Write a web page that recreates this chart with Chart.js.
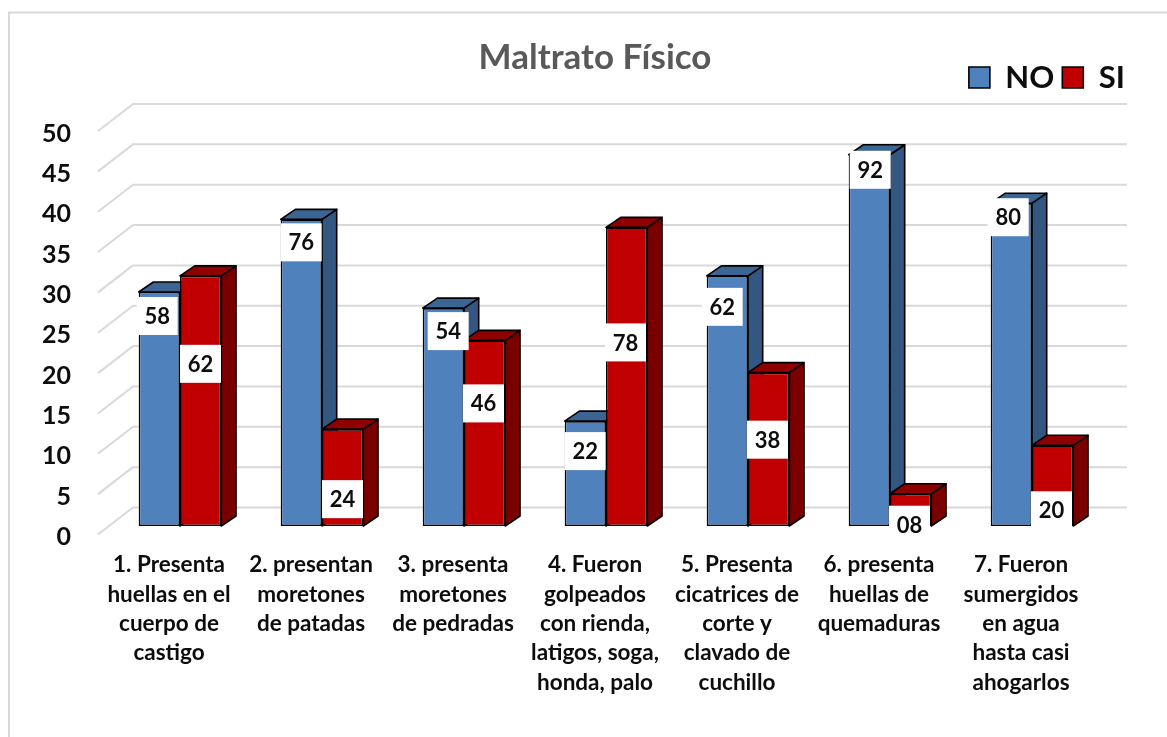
<!DOCTYPE html>
<html><head><meta charset="utf-8">
<style>html,body{margin:0;padding:0;background:#fff;overflow:hidden}canvas{display:block}</style>
<script src="https://cdn.jsdelivr.net/npm/chart.js@4"></script></head>
<body><canvas id="c" width="1167" height="737"></canvas>
<script>
const categories=[
 ["1. Presenta","huellas en el","cuerpo de","castigo"],
 ["2. presentan","moretones","de patadas"],
 ["3. presenta","moretones","de pedradas"],
 ["4. Fueron","golpeados","con rienda,","latigos, soga,","honda, palo"],
 ["5. Presenta","cicatrices de","corte y","clavado de","cuchillo"],
 ["6. presenta","huellas de","quemaduras"],
 ["7. Fueron","sumergidos","en agua","hasta casi","ahogarlos"]];
const noValues=[29,38,27,13,31,46,40];
const siValues=[31,12,23,37,19,4,10];
const noLabels=["58","76","54","22","62","92","80"];
const siLabels=["62","24","46","78","38","08","20"];
const yTicks=[0,5,10,15,20,25,30,35,40,45,50];
// hand-placed label offsets (px) from each bar's top-left corner
const noLabelDx=[-2,0,5,0,-5,1,-3], noLabelDy=[5,4,4,11,12,-4,-5];
const siLabelDx=[0,0,-1,-1,-1,-1,-1], siLabelDy=[69,51,44,96,48,12,46];

const FONT='Lato, "Open Sans", sans-serif', INK='#0D0D0D';
const AREA={left:98,right:1092,top:130.7,bottom:534.5};
const WALL={dx:35,dy:27}, PLANE={dx:11,dy:8.5}, BAR={dx:14.7,dy:10};
const SHADES=[{side:'#335780',top:'#3D6594'},{side:'#7A0000',top:'#8F0000'}];

function drawGrid(ch){const c=ch.ctx,y=ch.scales.y,x=ch.scales.x;c.save();c.strokeStyle='#D9D9D9';c.lineWidth=2;c.lineJoin='round';
  y.ticks.forEach(t=>{const p=y.getPixelForValue(t.value);c.beginPath();c.moveTo(x.left,p);c.lineTo(x.left+WALL.dx,p-WALL.dy);c.lineTo(x.right+WALL.dx,p-WALL.dy);c.stroke();});c.restore();}
function drawSeries(ch,idx){const c=ch.ctx,s=SHADES[idx],meta=ch.getDatasetMeta(idx);
  c.save();c.translate(PLANE.dx,-PLANE.dy);
  meta.controller.draw();
  c.lineWidth=1.6;c.strokeStyle='#000';c.lineJoin='round';
  meta.data.forEach(b=>{const l=b.x-b.width/2,r=b.x+b.width/2,t=b.y,f=b.base;
   c.fillStyle=s.side;c.beginPath();c.moveTo(r,t);c.lineTo(r+BAR.dx,t-BAR.dy);c.lineTo(r+BAR.dx,f-BAR.dy);c.lineTo(r,f);c.closePath();c.fill();c.stroke();
   c.fillStyle=s.top;c.beginPath();c.moveTo(l,t);c.lineTo(l+BAR.dx,t-BAR.dy);c.lineTo(r+BAR.dx,t-BAR.dy);c.lineTo(r,t);c.closePath();c.fill();c.stroke();});
  c.restore();}
function drawLabels(ch){const c=ch.ctx;c.save();c.textAlign='center';c.textBaseline='middle';c.font='bold 22px '+FONT;
  [[noLabels,noLabelDx,noLabelDy],[siLabels,siLabelDx,siLabelDy]].forEach((g,d)=>{
   ch.getDatasetMeta(d).data.forEach((b,i)=>{
    const bx=b.x-b.width/2+PLANE.dx+g[1][i],by=b.y-PLANE.dy+g[2][i];
    c.fillStyle='#fff';c.fillRect(bx,by,41,38);c.fillStyle=INK;c.fillText(g[0][i],bx+20.5,by+20);});});
  c.restore();}

const scene={id:'scene',
 beforeDraw(ch){const c=ch.ctx;c.save();c.fillStyle='#fff';c.fillRect(0,0,ch.width,ch.height);
  c.strokeStyle='#D9D9D9';c.lineWidth=2;c.strokeRect(9,12.5,ch.width+40,ch.height+40);c.restore();},
 afterLayout(ch){const l=ch.legend;l.left+=41;l.right+=41;l.top=54;l.bottom=100;},
 // series are painted left to right so each bar overlaps its left neighbour's depth face
 beforeDatasetsDraw(ch){drawGrid(ch);drawSeries(ch,0);drawSeries(ch,1);drawLabels(ch);return false;}
};

new Chart(document.getElementById('c'),{type:'bar',plugins:[scene],
 data:{labels:categories,datasets:[
  {label:'NO',data:noValues,backgroundColor:'#4F81BD',borderColor:'#000',borderWidth:1.6,borderSkipped:false},
  {label:'SI',data:siValues,backgroundColor:'#C00000',borderColor:'#000',borderWidth:1.6,borderSkipped:false}]},
 options:{responsive:false,animation:false,events:[],
  layout:{padding:{right:1167-AREA.right}},
  datasets:{bar:{categoryPercentage:0.582,barPercentage:1}},
  plugins:{tooltip:{enabled:false},
   title:{display:true,text:'Maltrato Físico',color:'#595959',fullSize:false,font:{family:FONT,size:35,weight:'bold'},padding:{top:37,bottom:3}},
   legend:{display:true,position:'top',align:'end',fullSize:false,
    labels:{color:INK,font:{family:FONT,size:31,weight:'bold'},boxWidth:21,boxHeight:21,padding:8}}},
  scales:{
   x:{grid:{display:false},border:{display:false},
    ticks:{color:INK,font:{family:FONT,size:22.5,weight:'bold',lineHeight:'29.3px'},padding:8,maxRotation:0,minRotation:0,autoSkip:false},
    afterFit(s){s.height=737-AREA.bottom;}},
   y:{min:0,max:50,grid:{display:false},border:{display:false},
    afterBuildTicks(s){s.ticks=yTicks.map(v=>({value:v}));},
    ticks:{color:INK,font:{family:FONT,size:25,weight:'bold'},padding:19,labelOffset:2.5},
    afterFit(s){s.width=AREA.left;}}
  }}});
</script></body></html>
